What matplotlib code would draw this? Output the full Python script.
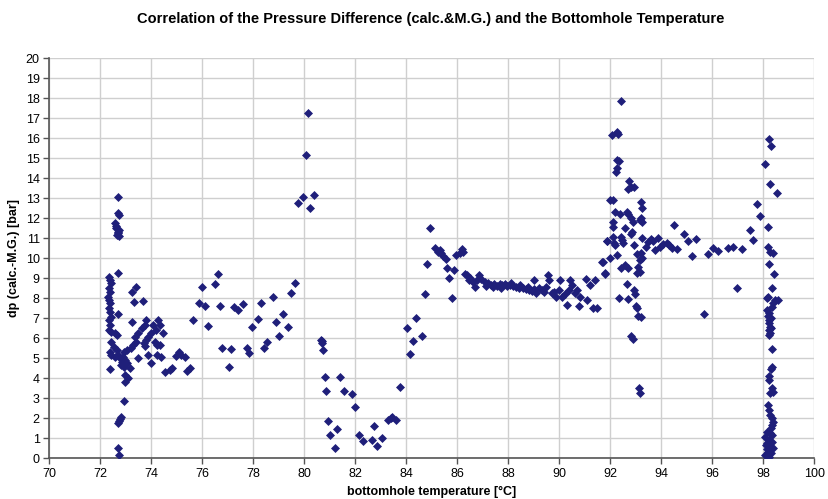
import matplotlib
matplotlib.use("Agg")
import matplotlib.pyplot as plt
from matplotlib import font_manager

# bottomhole temperature [degC] / dp [bar] in groups
temp_a = [72.69, 72.7, 72.72, 72.56, 72.62, 72.69, 72.65, 72.73, 72.68, 72.6, 72.72,
          72.67, 72.33, 72.37, 72.4, 72.33, 72.37, 72.3, 72.34, 72.37, 72.33, 72.37, 72.4,
          72.33, 72.37, 72.33, 72.43, 72.56, 72.63, 72.4, 72.54, 72.63, 72.67,
          73.41, 73.22, 73.32, 73.65, 73.24, 73.8, 73.73, 74.26, 74.33, 74.07, 74.17, 73.97,
          73.61, 73.48, 74.46, 73.35, 73.4, 73.28, 73.19, 73.02, 72.93, 73.87, 73.78, 73.71,
          73.74, 74.13, 74.2, 74.33, 72.37, 72.43, 72.56, 72.69, 72.76, 72.89, 72.85, 72.95,
          73.02, 72.82, 72.93, 73.48, 73.87, 74.2, 74.37, 73.97, 73.15, 72.37, 72.95, 73.06,
          72.98, 74.52, 74.72, 74.82, 75.07, 75.15, 74.95, 75.3, 75.41, 75.5,
          72.93, 72.82, 72.76, 72.73, 72.67, 72.67, 72.73]
dp_a = [13.08, 12.25, 12.15, 11.75, 11.5, 11.33, 11.17, 11.4, 11.25, 11.6, 11.1,
        9.28, 9.08, 8.92, 8.75, 8.5, 8.33, 8.08, 7.92, 7.75, 7.5, 7.33, 7.08,
        6.92, 6.67, 6.42, 6.33, 6.25, 6.17, 5.83, 5.58, 5.42, 7.2,
        8.55, 8.33, 7.83, 7.87, 6.8, 6.92, 6.67, 6.92, 6.67, 6.67, 6.42, 6.25,
        6.5, 6.25, 6.25, 6.08, 5.83, 5.67, 5.5, 5.42, 5.33, 6.08, 5.92, 5.75,
        5.6, 5.83, 5.67, 5.67, 5.33, 5.17, 5.08, 5.17, 5.0, 5.08, 4.83, 4.92,
        4.75, 4.67, 4.58, 5.0, 5.17, 5.17, 5.08, 4.78, 4.5, 4.47, 4.17, 4.0,
        3.83, 4.33, 4.42, 4.5, 5.33, 5.17, 5.12, 5.08, 4.38, 4.52,
        2.87, 2.08, 1.95, 1.88, 1.78, 0.5, 0.17]

temp_b = [80.12, 80.04, 79.73, 79.95, 80.21, 80.36,
          76.59, 76.48, 76.0, 75.85, 76.1, 76.69, 75.64, 76.23, 76.78, 77.13, 77.02,
          77.24, 77.38, 77.6, 77.73, 77.84, 77.95, 78.18, 78.28, 78.41, 78.53, 78.76,
          78.88, 79.0, 79.15, 79.37, 79.49, 79.62]
dp_b = [17.28, 15.17, 12.75, 13.08, 12.53, 13.15,
        9.2, 8.7, 8.58, 7.74, 7.63, 7.6, 6.92, 6.63, 5.53, 5.47, 4.55,
        7.58, 7.42, 7.73, 5.53, 5.25, 6.58, 6.95, 7.75, 5.53, 5.82, 8.08,
        6.83, 6.12, 7.2, 6.55, 8.28, 8.75]

temp_c = [80.65, 80.69, 80.74, 80.67, 80.81, 80.86, 80.93, 81.0, 81.28, 81.19, 81.41,
          81.54, 81.87, 82.0, 82.14, 82.3, 82.63, 82.73, 82.86, 83.02, 83.29, 83.45,
          83.6, 83.38, 83.75]
dp_c = [5.92, 5.75, 5.42, 5.85, 4.05, 3.37, 1.87, 1.17, 1.45, 0.5, 4.05,
        3.38, 3.22, 2.55, 1.17, 0.87, 0.92, 1.62, 0.62, 1.0, 1.92, 2.05,
        1.92, 2.0, 3.57]

temp_d = [84.15, 84.25, 84.02, 84.6, 84.38, 84.74, 84.81, 84.93, 85.1, 85.23, 85.36,
          85.43, 85.56, 85.3, 85.6, 85.86, 85.66, 85.79, 85.95, 86.08, 86.18, 86.23,
          86.31, 86.47]
dp_d = [5.23, 5.88, 6.53, 6.12, 7.03, 8.22, 9.72, 11.5, 10.5, 10.33, 10.28,
        10.12, 9.95, 10.4, 9.5, 9.42, 9.03, 8.03, 10.17, 10.28, 10.45, 10.33,
        9.2, 8.92]

temp_e = [86.36, 86.49, 86.62, 86.75, 86.85, 86.68, 86.94, 87.07, 87.2, 87.33, 87.45,
          87.55, 87.65, 87.75, 87.85, 87.95, 88.05, 88.17, 88.3, 88.4, 88.55, 88.68,
          88.81, 88.94, 89.07, 88.99, 89.2, 89.33, 89.46, 89.56, 89.59, 89.72, 89.85,
          90.01, 89.98, 90.1, 90.3, 90.36, 90.43, 90.5, 90.62, 90.75, 90.81, 91.03,
          91.07, 91.2, 91.33, 91.46, 91.39, 91.65, 91.78, 91.85, 92.0,
          87.12, 87.4, 87.7, 88.1, 88.45, 88.75, 89.0, 89.4, 89.8, 90.2, 90.7]
dp_e = [9.17, 9.0, 8.83, 8.9, 9.17, 8.58, 8.95, 8.83, 8.75, 8.67, 8.7,
        8.62, 8.72, 8.65, 8.7, 8.62, 8.68, 8.6, 8.58, 8.52, 8.5, 8.45,
        8.42, 8.35, 8.25, 8.92, 8.5, 8.42, 8.58, 9.17, 8.92, 8.25, 8.08,
        8.92, 8.42, 8.08, 7.67, 8.42, 8.92, 8.67, 8.25, 7.62, 8.08, 8.95,
        7.92, 8.67, 7.5, 7.5, 8.92, 9.83, 9.25, 10.88, 12.92,
        8.6, 8.55, 8.5, 8.75, 8.65, 8.55, 8.45, 8.3, 8.3, 8.2, 8.4]

temp_f = [92.43, 92.07, 92.27, 92.3, 92.27, 92.32, 92.24, 92.21, 92.72, 92.8, 92.69,
          92.92, 92.08, 93.19, 93.22, 92.17, 92.37, 92.63, 92.67, 93.19, 93.15, 93.22,
          92.82, 92.88, 92.08, 92.1, 92.56, 92.86, 92.82, 94.48, 91.88, 92.1, 92.14,
          92.17, 92.4, 92.45, 92.5, 92.93, 93.24, 93.48, 93.58, 93.65, 93.41, 93.87,
          93.75, 93.93, 94.04, 94.2, 94.3, 94.41, 94.6, 94.89, 95.05, 95.35, 95.18,
          95.83, 96.03, 96.2, 91.69, 91.97, 92.24, 93.02, 93.19, 93.22, 93.15, 92.56,
          92.69, 92.4, 93.09, 93.02, 93.15, 91.78, 92.63, 92.93, 92.98, 92.33,
          92.67, 92.99, 93.05, 93.08, 93.19, 95.66, 92.82, 92.9, 93.12, 93.14]
dp_f = [17.87, 16.17, 16.33, 16.2, 14.92, 14.85, 14.5, 14.3, 13.87, 13.58, 13.47,
        13.58, 12.92, 12.8, 12.5, 12.33, 12.2, 12.33, 12.2, 12.0, 11.92, 11.83,
        12.0, 11.83, 11.83, 11.58, 11.53, 11.33, 11.2, 11.67, 10.87, 11.08, 10.75,
        10.67, 11.08, 10.92, 10.75, 10.67, 11.0, 10.83, 10.97, 10.85, 10.58, 11.0,
        10.42, 10.58, 10.7, 10.75, 10.65, 10.53, 10.47, 11.2, 10.87, 10.97, 10.13,
        10.2, 10.53, 10.37, 9.83, 10.0, 10.17, 10.2, 10.25, 10.0, 9.92, 9.67,
        9.5, 9.5, 9.58, 9.25, 9.33, 9.2, 8.72, 8.42, 8.2, 8.0,
        7.95, 7.63, 7.5, 7.12, 7.08, 7.22, 6.13, 5.97, 3.5, 3.25]

temp_g = [96.6, 96.8, 97.15, 96.95, 97.48, 97.58, 97.74, 97.87, 98.2, 98.29, 98.07,
          98.26, 98.52, 98.17, 98.17, 98.26, 98.37, 98.22, 98.43, 98.33, 98.13, 98.17,
          98.46, 98.56, 98.39, 98.33, 98.13, 98.2, 98.18, 98.22, 98.2, 98.26, 98.22,
          98.26, 98.2, 98.3, 98.28, 98.33, 98.35, 98.3, 98.22, 98.2, 98.33, 98.39,
          98.26, 98.17, 98.2, 98.26, 98.33, 98.39, 98.35, 98.3, 98.13, 98.07, 98.2,
          98.35, 98.33, 98.09, 98.26, 98.39, 98.17, 98.3, 98.07, 98.2, 98.15, 98.25,
          98.12]
dp_g = [10.53, 10.55, 10.47, 8.5, 11.42, 10.92, 12.72, 12.13, 15.95, 15.63, 14.7,
        13.7, 13.28, 11.55, 10.55, 10.33, 10.28, 9.7, 9.2, 8.5, 8.0, 8.05,
        7.92, 7.92, 7.75, 7.58, 7.42, 7.25, 7.1, 6.92, 6.75, 6.58, 6.42,
        6.25, 6.17, 7.0, 6.5, 5.45, 4.55, 4.45, 4.12, 3.92, 3.5, 3.33,
        3.25, 2.67, 2.42, 2.17, 2.0, 1.83, 1.67, 1.5, 1.33, 1.08, 0.92,
        1.17, 0.83, 0.67, 0.58, 0.5, 0.33, 0.25, 0.17, 0.08, 0.75, 1.25,
        0.45]

temperature = temp_a + temp_b + temp_c + temp_d + temp_e + temp_f + temp_g
dp = dp_a + dp_b + dp_c + dp_d + dp_e + dp_f + dp_g

installed = {f.name for f in font_manager.fontManager.ttflist}
narrow = "Liberation Sans Narrow" if "Liberation Sans Narrow" in installed else "Liberation Sans"
plt.rcParams['font.family'] = ["Liberation Sans", "DejaVu Sans"]

fig = plt.figure(figsize=(8.29, 4.99), dpi=100)
ax = fig.add_axes([0.0597, 0.0816, 0.9228, 0.8016])

ax.scatter(temperature, dp, marker="D", s=21, color="#1f1f7a", linewidths=0, zorder=3)

ax.set_xlim(70, 100)
ax.set_ylim(0, 20)
ax.set_xticks(range(70, 101, 2))
ax.set_yticks(range(0, 21, 1))
ax.grid(True, color="#cfcfcf", linewidth=1.0)
ax.set_axisbelow(True)
ax.tick_params(direction="out", length=4, width=1, color="#555555", labelsize=9, pad=3)
for s in ["top", "right"]:
    ax.spines[s].set_visible(False)
for s in ["left", "bottom"]:
    ax.spines[s].set_color("#555555")
    ax.spines[s].set_linewidth(1.2)

fig.text(0.52, 0.962, "Correlation of the Pressure Difference (calc.&M.G.) and the Bottomhole Temperature",
         ha="center", va="center", fontsize=10.5, fontweight="bold", family=[narrow, "DejaVu Sans"])
ax.set_xlabel("bottomhole temperature [°C]", fontsize=9, fontweight="bold", labelpad=4,
              family=[narrow, "DejaVu Sans"])
ax.set_ylabel("dp (calc.-M.G.) [bar]", fontsize=9, fontweight="bold", labelpad=4,
              family=[narrow, "DejaVu Sans"])

fig.savefig("out.png", dpi=100)
